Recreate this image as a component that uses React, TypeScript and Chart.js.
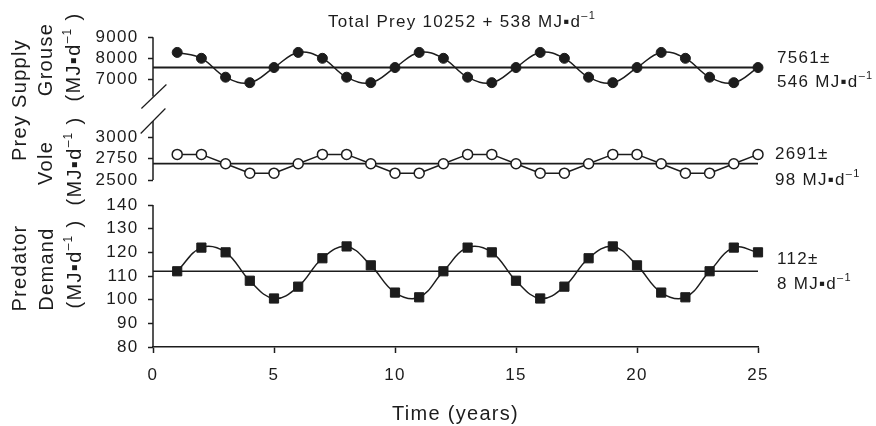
import React, { useEffect, useRef } from "react";
import { Chart, registerables } from "chart.js";

Chart.register(...registerables);

// ---------- data ----------
const years = [1, 2, 3, 4, 5, 6, 7, 8, 9, 10, 11, 12, 13, 14, 15, 16, 17, 18, 19, 20, 21, 22, 23, 24, 25];
const grouse = [8280, 8000, 7100, 6840, 7560, 8280, 8000, 7100, 6840, 7560, 8280, 8000, 7100, 6840, 7560, 8280, 8000, 7100, 6840, 7560, 8280, 8000, 7100, 6840, 7560];
const vole = [2800, 2800, 2690, 2580, 2580, 2690, 2800, 2800, 2690, 2580, 2580, 2690, 2800, 2800, 2690, 2580, 2580, 2690, 2800, 2800, 2690, 2580, 2580, 2690, 2800];
const predator = [112, 122, 120, 108, 100.5, 105.5, 117.5, 122.5, 114.5, 103, 101, 112, 122, 120, 108, 100.5, 105.5, 117.5, 122.5, 114.5, 103, 101, 112, 122, 120];
const grouseMean = 7561;
const voleMean = 2691;
const predatorMean = 112;

const xTicks = [0, 5, 10, 15, 20, 25];
const grouseTicks = [7000, 8000, 9000];
const voleTicks = [2500, 2750, 3000];
const predatorTicks = [80, 90, 100, 110, 120, 130, 140];

const titleText = "Total Prey 10252 + 538 ";
const xTitle = "Time (years)";
const grouseNote = ["7561±", "546 "];
const voleNote = ["2691±", "98 "];
const predatorNote = ["112±", "8 "];

// ---------- style ----------
const INK = "#1c1c1c";
const FONT = '"Liberation Sans", Arial, sans-serif';
const SPACING = "1.3px";

type Part = { t: string; sup?: boolean };

function setSpacing(ctx: any) {
  if ("letterSpacing" in ctx) ctx.letterSpacing = SPACING;
}

function richWidth(ctx: CanvasRenderingContext2D, parts: Part[], size: number) {
  let w = 0;
  for (const p of parts) {
    ctx.font = `${p.sup ? Math.round(size * 0.62) : size}px ${FONT}`;
    w += ctx.measureText(p.t).width;
  }
  return w;
}

function drawRich(ctx: CanvasRenderingContext2D, parts: Part[], x: number, y: number, size: number, align: "left" | "center") {
  const w = richWidth(ctx, parts, size);
  let cx = align === "center" ? x - w / 2 : x;
  ctx.textAlign = "left";
  ctx.textBaseline = "alphabetic";
  ctx.fillStyle = INK;
  for (const p of parts) {
    const s = p.sup ? Math.round(size * 0.62) : size;
    ctx.font = `${s}px ${FONT}`;
    ctx.fillText(p.t, cx, p.sup ? y - size * 0.45 : y);
    cx += ctx.measureText(p.t).width;
  }
}

function drawVertical(ctx: CanvasRenderingContext2D, parts: Part[], x: number, cy: number, size: number) {
  ctx.save();
  ctx.translate(x, cy);
  ctx.rotate(-Math.PI / 2);
  drawRich(ctx, parts, 0, 0, size, "center");
  ctx.restore();
}

const unitParen: Part[] = [{ t: "(MJ▪d" }, { t: "–1", sup: true }, { t: " )" }];
const unitTail = (prefix: string): Part[] => [{ t: prefix + "MJ▪d" }, { t: "–1", sup: true }];

function line(ctx: CanvasRenderingContext2D, x1: number, y1: number, x2: number, y2: number) {
  ctx.beginPath();
  ctx.moveTo(x1, y1);
  ctx.lineTo(x2, y2);
  ctx.stroke();
}

const decorPlugin = {
  id: "decor",
  beforeDraw(chart: any) {
    setSpacing(chart.ctx);
  },
  afterDraw(chart: any) {
    const ctx: CanvasRenderingContext2D = chart.ctx;
    const { left } = chart.chartArea;
    const gs = chart.scales.yG;
    const vs = chart.scales.yV;
    const ps = chart.scales.yP;
    const xs = chart.scales.x;
    ctx.save();
    setSpacing(ctx);
    // axis lines with break
    ctx.strokeStyle = INK;
    ctx.lineWidth = 1.5;
    const topBreak = gs.bottom - 13.5;
    const botBreak = vs.top + 11;
    line(ctx, left, gs.getPixelForValue(grouseTicks[grouseTicks.length - 1]), left, topBreak);
    line(ctx, left, botBreak, left, vs.getPixelForValue(voleTicks[0]));
    line(ctx, left, ps.getPixelForValue(predatorTicks[predatorTicks.length - 1]), left, ps.bottom);
    ctx.lineWidth = 1.2;
    line(ctx, left - 11.6, topBreak + 12, left + 13.4, topBreak - 12);
    line(ctx, left - 12.3, botBreak + 12.5, left + 12.4, botBreak - 12.5);

    // title
    drawRich(ctx, [{ t: titleText + "MJ▪d" }, { t: "–1", sup: true }], 328, 27, 17, "left");
    // x title
    drawRich(ctx, [{ t: xTitle }], (xs.left + xs.right) / 2, 420, 20, "center");

    // vertical labels
    drawVertical(ctx, [{ t: "Prey Supply" }], 26, 100, 20);
    drawVertical(ctx, [{ t: "Grouse" }], 52, 59.5, 20);
    drawVertical(ctx, unitParen, 80, 57, 20);
    drawVertical(ctx, [{ t: "Vole" }], 52, 163, 20);
    drawVertical(ctx, unitParen, 81, 161, 20);
    drawVertical(ctx, [{ t: "Predator" }], 26, 268, 20);
    drawVertical(ctx, [{ t: "Demand" }], 53, 269, 20);
    drawVertical(ctx, unitParen, 81, 264, 20);

    // right notes
    drawRich(ctx, [{ t: grouseNote[0] }], 777, 63, 17, "left");
    drawRich(ctx, unitTail(grouseNote[1]), 777, 87, 17, "left");
    drawRich(ctx, [{ t: voleNote[0] }], 775, 159, 17, "left");
    drawRich(ctx, unitTail(voleNote[1]), 775, 185, 17, "left");
    drawRich(ctx, [{ t: predatorNote[0] }], 777, 264, 17, "left");
    drawRich(ctx, unitTail(predatorNote[1]), 777, 289, 17, "left");
    ctx.restore();
  },
};

const tickFont = { family: FONT, size: 17 };

function yAxis(min: number, max: number, ticks: number[], weight: number, stackWeight: number) {
  return {
    type: "linear",
    position: "left",
    stack: "panels",
    stackWeight,
    weight,
    min,
    max,
    afterBuildTicks: (s: any) => {
      s.ticks = ticks.map((v) => ({ value: v }));
    },
    afterFit: (s: any) => {
      s.width = 60;
    },
    border: { display: false },
    grid: { drawOnChartArea: false, drawTicks: true, tickLength: 5, tickColor: INK, tickWidth: 1.5 },
    ticks: { font: tickFont, color: INK, padding: 9.5, autoSkip: false, callback: (v: any) => String(v) },
  };
}

const pts = (vals: number[]) => years.map((x, i) => ({ x, y: vals[i] }));
const flat = (v: number) => [
  { x: xTicks[0], y: v },
  { x: xTicks[xTicks.length - 1], y: v },
];

export default function App() {
  const ref = useRef<HTMLCanvasElement>(null);
  useEffect(() => {
    const canvas = ref.current;
    if (!canvas) return;
    const chart = new Chart(canvas, {
      type: "line",
      data: {
        datasets: [
          {
            label: "Grouse",
            data: pts(grouse),
            yAxisID: "yG",
            borderColor: INK,
            borderWidth: 1.5,
            tension: 0.4,
            pointRadius: 5,
            pointBackgroundColor: INK,
            pointBorderColor: INK,
            pointBorderWidth: 1,
            clip: false,
          },
          {
            label: "Vole",
            data: pts(vole),
            yAxisID: "yV",
            borderColor: INK,
            borderWidth: 1.5,
            tension: 0,
            pointRadius: 5,
            pointBackgroundColor: "#ffffff",
            pointBorderColor: INK,
            pointBorderWidth: 1.5,
            clip: false,
          },
          {
            label: "Predator",
            data: pts(predator),
            yAxisID: "yP",
            borderColor: INK,
            borderWidth: 1.5,
            tension: 0.4,
            pointStyle: "rect",
            pointRadius: 6.5,
            pointBackgroundColor: INK,
            pointBorderColor: INK,
            pointBorderWidth: 1,
            clip: false,
          },
          { label: "Grouse mean", data: flat(grouseMean), yAxisID: "yG", borderColor: INK, borderWidth: 1.8, pointRadius: 0, clip: false },
          { label: "Vole mean", data: flat(voleMean), yAxisID: "yV", borderColor: INK, borderWidth: 1.8, pointRadius: 0, clip: false },
          { label: "Predator mean", data: flat(predatorMean), yAxisID: "yP", borderColor: INK, borderWidth: 1.5, pointRadius: 0, clip: false },
        ],
      },
      options: {
        responsive: false,
        devicePixelRatio: 1,
        animation: false,
        events: [],
        layout: { padding: { left: 93, right: 118, top: 30, bottom: 0 } },
        plugins: { legend: { display: false }, tooltip: { enabled: false }, title: { display: false } },
        scales: {
          x: {
            type: "linear",
            position: "bottom",
            min: xTicks[0],
            max: xTicks[xTicks.length - 1],
            afterBuildTicks: (s: any) => {
              s.ticks = xTicks.map((v) => ({ value: v }));
            },
            afterFit: (s: any) => {
              s.height = 79;
            },
            border: { display: true, color: INK, width: 1.5 },
            grid: { drawOnChartArea: false, drawTicks: true, tickLength: 6, tickColor: INK, tickWidth: 1.5 },
            ticks: { font: tickFont, color: INK, padding: 12, maxRotation: 0, autoSkip: false, callback: (v: any) => String(v) },
          },
          yG: yAxis(5538, 9348, grouseTicks, 3, 80),
          yV: yAxis(2383, 3320, voleTicks, 2, 80),
          yP: yAxis(80, 146.34, predatorTicks, 1, 157),
        } as any,
      },
      plugins: [decorPlugin],
    } as any);
    return () => chart.destroy();
  }, []);
  return (
    <div style={{ position: "absolute", left: 0, top: 0, width: 876, height: 426, background: "#fff" }}>
      <canvas ref={ref} width={876} height={426} style={{ width: 876, height: 426, display: "block" }} />
    </div>
  );
}
